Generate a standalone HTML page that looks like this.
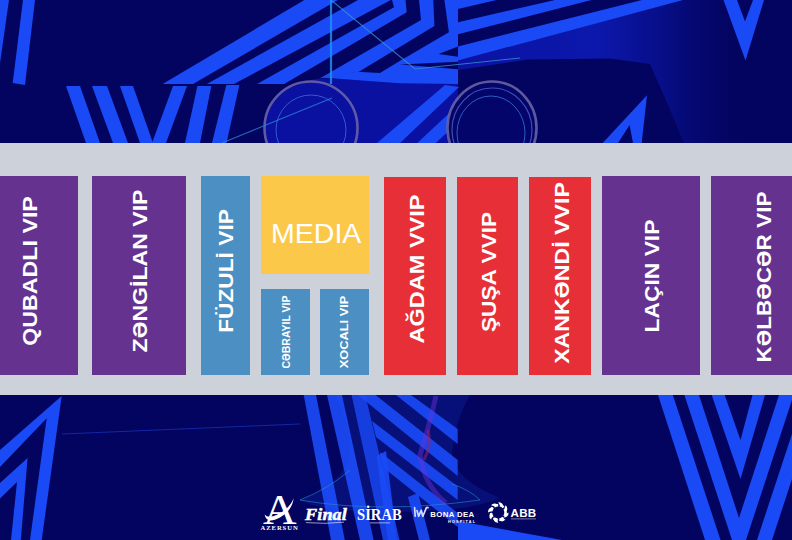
<!DOCTYPE html>
<html><head><meta charset="utf-8"><title>Seating</title>
<style>
html,body{margin:0;padding:0}
body{width:792px;height:540px;overflow:hidden;position:relative;background:#03045f;font-family:"Liberation Sans",sans-serif}
.band{position:absolute;left:0;top:143px;width:792px;height:252px;background:#cdd1d9}
.box{position:absolute}
.lbl{position:absolute;color:#fff;font-weight:bold;white-space:nowrap;transform:translate(-50%,-50%) rotate(-90deg);line-height:1}
.media{position:absolute;left:261px;top:176px;width:107.5px;height:98px;background:#fcc84a;color:#fff;font-size:28.5px;text-align:center;line-height:114px;text-indent:3px}
.logo{position:absolute;color:#fff;white-space:nowrap;line-height:1}
</style></head><body>

<svg width="792" height="540" viewBox="0 0 792 540" style="position:absolute;left:0;top:0"><defs><linearGradient id="gmed" x1="0" y1="0" x2="1" y2="0"><stop offset="0" stop-color="#070a88"/><stop offset="0.5" stop-color="#0a12a2"/><stop offset="1" stop-color="#050878"/></linearGradient><linearGradient id="gglow" gradientUnits="userSpaceOnUse" x1="458" y1="0" x2="740" y2="0"><stop offset="0" stop-color="#0a12a2"/><stop offset="0.5" stop-color="#0c18ac"/><stop offset="0.72" stop-color="#081090" stop-opacity="0.85"/><stop offset="1" stop-color="#050878" stop-opacity="0"/></linearGradient></defs><circle cx="311" cy="128" r="47" fill="#0a10a0"/>
<polygon points="311,80 320,78.3 458,84 458,143 311,143" fill="#0a10a0" />
<polygon points="458,60.6 682,0 740,0 740,143 684,143 668,105 650,64 610,58.6 527,59.6 458,70" fill="url(#gglow)" />
<polygon points="0,0 9,0 0,63" fill="#1a4af6" />
<polygon points="23,0 35,0 25,85 12.7,83" fill="#1a4af6" />
<polygon points="66,86 80,86 100,143 86,143" fill="#1a4af6" />
<polygon points="92,86 107,86 128,143 113,143" fill="#1a4af6" />
<polygon points="120,86 133,86 153,143 140,143" fill="#1a4af6" />
<polygon points="173,86 187,86 166,143 152,143" fill="#1a4af6" />
<polygon points="197.4,86 211.3,86 200,143 185,143" fill="#1a4af6" />
<polygon points="226.3,85 239.4,85 226.5,143 212,143" fill="#1a4af6" />
<polygon points="162.6,84 193,84 337.8,0 304.4,0" fill="#1a4af6" />
<polygon points="206.8,84 234,84 390.8,0 358,0" fill="#1a4af6" />
<polygon points="257,84 284.2,84 406.7,12.2 405.5,0 392,0 394,7.2" fill="#1a4af6" />
<polygon points="320,78.3 421,20 419,0 433.3,0 434.4,26 358.9,71.7" fill="#1a4af6" />
<polygon points="380,73 401,60.3 448.9,32.2 444.4,0 458,0 458,84 400,83.3 320,77.5 356.7,71.7" fill="#1a4af6" />
<polygon points="438.6,54 458,46.4 458,56.8" fill="#03045f" />
<polygon points="399.7,64.4 458,61.7 458,69.3" fill="#03045f" />
<polygon points="377,143 400,143 459,87 445,85" fill="#1a4af6" />
<polygon points="417.3,143 448.3,114 452,116 452,128 435.7,143" fill="#1a4af6" />
<polygon points="458,0 496.5,0 458,9.1" fill="#1a4af6" />
<polygon points="458,22.2 555,0 591.4,0 458,34.3" fill="#1a4af6" />
<polygon points="458,46.5 642,0 683,0 458,60.6" fill="#1a4af6" />
<polygon points="723.5,0 737,0 745,21.5 753,0 764,0 745.5,60.4" fill="#1a4af6" />
<polygon points="647,95.3 602.7,143 618,143 629.6,125 633,143 641.7,143" fill="#1a4af6" />
<ellipse cx="492" cy="128" rx="45" ry="47" fill="#04056a"/>
<g fill="none" stroke="#6f68a8" opacity="0.85"><circle cx="311" cy="128" r="46.5" stroke-width="2.6"/><circle cx="311" cy="130" r="35" stroke-width="1" stroke="#3f66d8"/><ellipse cx="492" cy="128" rx="44.5" ry="46.5" stroke-width="2.6"/><ellipse cx="492" cy="130" rx="40" ry="42" stroke-width="1.2" stroke="#4a5cc0"/><ellipse cx="491" cy="133" rx="34" ry="37" stroke-width="1" stroke="#2f6fd0"/></g>
<path d="M222 143 L332 98" stroke="#2a7fd8" stroke-width="1.2" opacity="0.8"/>
<path d="M331 0 L331 84" stroke="#1f8ff0" stroke-width="2.2" opacity="0.85"/>
<path d="M331 0 L415 69 L520 58" fill="none" stroke="#3a8fd0" stroke-width="1.1" opacity="0.8"/>
<polygon points="61.7,396 41.7,540 30,540 46.7,418.3 0,467 0,450" fill="#1a4af6" />
<polygon points="27.6,458 20.8,540 11,540 17,482 0,498.5 0,483" fill="#1a4af6" />
<polygon points="658,395 672.8,395 720.5,540 705,540" fill="#1a4af6" />
<polygon points="684.4,395 699,395 739,518 779,395 792,395 792,400 746,540 732,540" fill="#1a4af6" />
<polygon points="711.7,395 724.7,395 740.5,440 752.5,395 765,395 740.5,479" fill="#1a4af6" />
<polygon points="792,434 792,479 772,540 757,540" fill="#1a4af6" />
<polygon points="303.7,395 316,395 344.8,540 331,540" fill="#1a4af6" opacity="0.92"/>
<polygon points="327,395 342,395 373.6,540 360,540" fill="#1a4af6" opacity="0.92"/>
<polygon points="351.6,395 365.3,395 399.6,540 383,540" fill="#1a4af6" opacity="0.8"/>
<polygon points="396,395 411,395 457.7,429 457.7,444" fill="#1a4af6" opacity="0.9"/>
<polygon points="358,395 375.5,395 457.7,460 457.7,476" fill="#1a4af6" opacity="0.9"/>
<polygon points="372,421 457.7,486.5 457.7,500 376,437" fill="#1a4af6" opacity="0.9"/>
<polygon points="380,452 457.7,513 457.7,527 384,468" fill="#1a4af6" opacity="0.9"/>
<polygon points="458,521 562,540 458,540" fill="#1a4af6" />
<path d="M436 396 Q428 430 420 455 Q424 485 446 503" fill="none" stroke="#7a2ad0" stroke-width="5" opacity="0.45"/>
<path d="M428 430 Q432 445 424 460" fill="none" stroke="#c0183c" stroke-width="3" opacity="0.5"/>
<path d="M300 500 Q330 488 350 470 M300 500 Q380 514 480 500 Q470 490 452 484" fill="none" stroke="#2aa0c8" stroke-width="1" opacity="0.55"/>
<path d="M62 434 L300 424" stroke="#1c3fd0" stroke-width="1" opacity="0.6"/>
<polygon points="376.7,456 386,451 397,540 387.8,540" fill="#1a4af6" opacity="0.9"/>
<polygon points="408,497 418,493 430,540 419,540" fill="#1a4af6" opacity="0.9"/>
<path d="M335 395 L470 395 Q455 420 452 455 Q455 480 500 498 Q470 512 390 512 Q320 512 300 500 Q345 485 350 450 Q348 420 335 395 Z" fill="#1c50ff" opacity="0.16"/></svg>
<div class="band"></div>
<div class="box" style="left:0px;top:176px;width:78px;height:199px;background:#65338f"></div>
<div class="box" style="left:92px;top:176px;width:94px;height:199px;background:#65338f"></div>
<div class="box" style="left:201px;top:176px;width:49px;height:199px;background:#4b8fc3"></div>
<div class="box" style="left:384px;top:176.5px;width:62px;height:198.5px;background:#e72f37"></div>
<div class="box" style="left:456.5px;top:176.5px;width:61.5px;height:198.5px;background:#e72f37"></div>
<div class="box" style="left:529px;top:176.5px;width:61.8px;height:198.5px;background:#e72f37"></div>
<div class="box" style="left:601.6px;top:176px;width:98.7px;height:199px;background:#65338f"></div>
<div class="box" style="left:711px;top:176px;width:81px;height:199px;background:#65338f"></div>
<div class="media">MEDIA</div>
<div class="box" style="left:261px;top:289px;width:49px;height:86px;background:#4b8fc3"></div>
<div class="box" style="left:320px;top:289px;width:49px;height:86px;background:#4b8fc3"></div>
<div class="lbl" style="left:28.85px;top:270.85px;font-size:21px;transform:translate(-50%,-50%) rotate(-90deg) scaleX(1.106)">QUBADLI VIP</div>
<div class="lbl" style="left:138.75px;top:271.2px;font-size:21px;transform:translate(-50%,-50%) rotate(-90deg) scaleX(1.099)">ZƏNGİLAN VIP</div>
<div class="lbl" style="left:224.75px;top:270.6px;font-size:21px;transform:translate(-50%,-50%) rotate(-90deg) scaleX(1.082)">FÜZULİ VIP</div>
<div class="lbl" style="left:285.8px;top:332.2px;font-size:10.5px;transform:translate(-50%,-50%) rotate(-90deg) scaleX(1)">CƏBRAYIL VIP</div>
<div class="lbl" style="left:345.4px;top:332px;font-size:11.8px;transform:translate(-50%,-50%) rotate(-90deg) scaleX(1.086)">XOCALI VIP</div>
<div class="lbl" style="left:416.35px;top:268.8px;font-size:21px;transform:translate(-50%,-50%) rotate(-90deg) scaleX(1.121)">AĞDAM VVIP</div>
<div class="lbl" style="left:488.35px;top:271.6px;font-size:21px;transform:translate(-50%,-50%) rotate(-90deg) scaleX(1.08)">ŞUŞA VVIP</div>
<div class="lbl" style="left:561.35px;top:272.6px;font-size:21px;transform:translate(-50%,-50%) rotate(-90deg) scaleX(1.104)">XANKƏNDİ VVIP</div>
<div class="lbl" style="left:651.35px;top:275.6px;font-size:21px;transform:translate(-50%,-50%) rotate(-90deg) scaleX(1.086)">LAÇIN VIP</div>
<div class="lbl" style="left:763px;top:276.8px;font-size:21px;transform:translate(-50%,-50%) rotate(-90deg) scaleX(1.076)">KƏLBƏCƏR VIP</div>
<svg width="792" height="540" viewBox="0 0 792 540" style="position:absolute;left:0;top:0"><path d="M264.6 514.5 Q266.5 524.5 280 517.5 Q292.5 510 293.6 498.3 Q290.5 507.5 279 513.8 Q268.5 519.5 264.6 514.5 Z" fill="#fff"/><path d="M306 522.6 q19 1.6 38 -0.4" fill="none" stroke="#fff" stroke-width="0.9" opacity="0.65"/><path d="M414.6 507.6 l0.6 8.6 M417 510.5 l1.6 5.8 l2.6 -6 l1.6 6 l3.6 -8.6 l1.6 0" fill="none" stroke="#d4dcff" stroke-width="1.7" stroke-linejoin="round" stroke-linecap="round"/><circle cx="498.3" cy="512.4" r="7.3" fill="none" stroke="#fff" stroke-width="2.6" stroke-dasharray="4.2 1.77"/><path transform="rotate(0 498.3 512.4)" d="M498.3 502.2 a4.4 4.4 0 0 1 4.8 5.8 a2.7 2.7 0 0 0 -3.3 -2.7 z" fill="#fff"/><path transform="rotate(45 498.3 512.4)" d="M498.3 502.2 a4.4 4.4 0 0 1 4.8 5.8 a2.7 2.7 0 0 0 -3.3 -2.7 z" fill="#fff"/><path transform="rotate(90 498.3 512.4)" d="M498.3 502.2 a4.4 4.4 0 0 1 4.8 5.8 a2.7 2.7 0 0 0 -3.3 -2.7 z" fill="#fff"/><path transform="rotate(135 498.3 512.4)" d="M498.3 502.2 a4.4 4.4 0 0 1 4.8 5.8 a2.7 2.7 0 0 0 -3.3 -2.7 z" fill="#fff"/><path transform="rotate(180 498.3 512.4)" d="M498.3 502.2 a4.4 4.4 0 0 1 4.8 5.8 a2.7 2.7 0 0 0 -3.3 -2.7 z" fill="#fff"/><path transform="rotate(225 498.3 512.4)" d="M498.3 502.2 a4.4 4.4 0 0 1 4.8 5.8 a2.7 2.7 0 0 0 -3.3 -2.7 z" fill="#fff"/><path transform="rotate(270 498.3 512.4)" d="M498.3 502.2 a4.4 4.4 0 0 1 4.8 5.8 a2.7 2.7 0 0 0 -3.3 -2.7 z" fill="#fff"/><path transform="rotate(315 498.3 512.4)" d="M498.3 502.2 a4.4 4.4 0 0 1 4.8 5.8 a2.7 2.7 0 0 0 -3.3 -2.7 z" fill="#fff"/><rect x="370" y="522.5" width="20" height="0.8" fill="#fff" opacity="0.7"/><rect x="511" y="518.5" width="25" height="0.8" fill="#fff" opacity="0.6"/></svg>
<div class="logo" style="left:262.5px;top:487.8px;font-size:43px;font-family:'Liberation Serif',serif;transform:scaleX(1.08);transform-origin:0 0">A</div>
<div class="logo" style="left:260.5px;top:525.2px;font-size:6.6px;font-family:'Liberation Serif',serif;letter-spacing:0.95px;font-weight:bold">AZERSUN</div>
<div class="logo" style="left:304.5px;top:506.3px;font-size:17px;font-family:'Liberation Serif',serif;font-style:italic;font-weight:bold;letter-spacing:0.1px;-webkit-text-stroke:0.5px #fff;transform:scaleX(1.07);transform-origin:0 0">Final</div>
<div class="logo" style="left:357.3px;top:505.5px;font-size:17px;font-family:'Liberation Serif',serif;font-weight:bold;transform:scaleX(0.86);transform-origin:0 0">SİRAB</div>
<div class="logo" style="left:430.3px;top:510.6px;font-size:7.8px;letter-spacing:0.38px;font-weight:bold">BONA DEA</div>
<div class="logo" style="left:448px;top:520.6px;font-size:3.8px;letter-spacing:1.15px;font-weight:bold">HOSPITAL</div>
<div class="logo" style="left:510.6px;top:506.5px;font-size:11.6px;font-weight:bold;letter-spacing:0.2px">ABB</div>
</body></html>
